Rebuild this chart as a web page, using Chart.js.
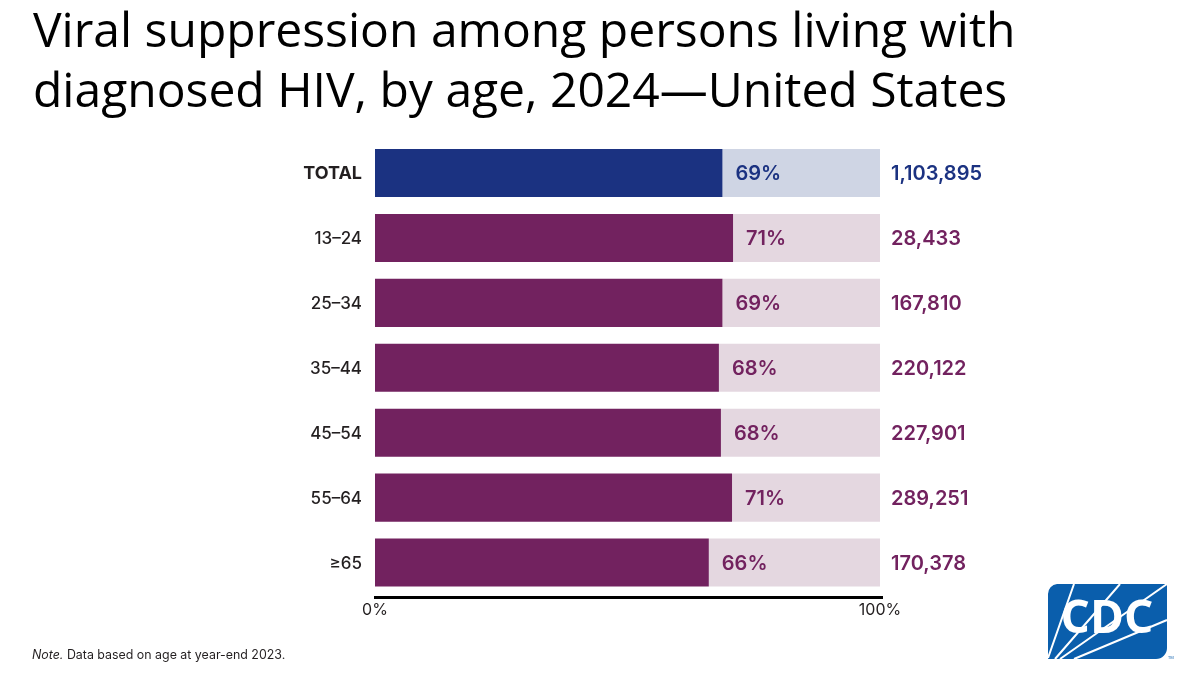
<!DOCTYPE html>
<html><head><meta charset="utf-8">
<script src="https://cdn.jsdelivr.net/npm/chart.js@4/dist/chart.umd.min.js"></script>
<style>
html,body{margin:0;padding:0;background:#fff;width:1200px;height:675px;overflow:hidden}
#wrap{position:relative;width:1200px;height:675px}
canvas{position:absolute;left:0;top:0}
#note{position:absolute;left:32px;top:647px;font:12.4px Inter,sans-serif;color:#231f20}
#logo{position:absolute;left:1047px;top:584px}
</style></head><body>
<div id="wrap">
<canvas id="c" width="1200" height="675"></canvas>
<div id="note"><i>Note.</i> Data based on age at year-end 2023.</div>
<svg id="logo" width="130" height="78" viewBox="0 0 130 78">
<path d="M10 0H120V64a11 11 0 0 1-11 11H1V10A10 10 0 0 1 10 0Z" fill="#0a5eac"/>
<g stroke="#fff" stroke-width="2" fill="none">
<path d="M1 74L27 0M8 75L73 0M13 75L120 0M27 75L120 36"/>
</g>
<text x="60" y="49" text-anchor="middle" font-family="Open Sans" font-weight="700" font-size="46" textLength="93" lengthAdjust="spacingAndGlyphs" fill="#fff">CDC</text>
<text x="121" y="75" font-family="Open Sans" font-size="4" fill="#0a5eac">TM</text>
</svg>
</div>
<script>
const titleLines = ["Viral suppression among persons living with","diagnosed HIV, by age, 2024—United States"];
const categories = ["TOTAL","13–24","25–34","35–44","45–54","55–64","≥65"];
const suppressed = [68.8,70.9,68.8,68.1,68.5,70.7,66.1];
const remainder = [31.2,29.1,31.2,31.9,31.5,29.3,33.9];
const percentLabels = ["69%","71%","69%","68%","68%","71%","66%"];
const counts = ["1,103,895","28,433","167,810","220,122","227,901","289,251","170,378"];
const darkColors = ["#1b3281","#72225f","#72225f","#72225f","#72225f","#72225f","#72225f"];
const lightColors = ["#cfd5e4","#e4d7e0","#e4d7e0","#e4d7e0","#e4d7e0","#e4d7e0","#e4d7e0"];

const labelFont = '600 20px Inter, sans-serif';
const barLabels = {
  id:'barLabels',
  afterDatasetsDraw(chart){
    const {ctx,scales:{x,y}} = chart;
    ctx.save();
    ctx.strokeStyle = '#000';
    ctx.lineWidth = 3;
    ctx.beginPath();
    ctx.moveTo(x.getPixelForValue(0)-1, y.bottom+2.5);
    ctx.lineTo(x.getPixelForValue(100)+3, y.bottom+2.5);
    ctx.stroke();
    ctx.font = labelFont;
    ctx.textBaseline = 'middle';
    categories.forEach((c,i)=>{
      const yp = y.getPixelForValue(i)+1;
      ctx.fillStyle = darkColors[i];
      ctx.textAlign = 'left';
      ctx.fillText(percentLabels[i], x.getPixelForValue(suppressed[i])+13, yp);
    });
    ctx.restore();
  }
};
new Chart(document.getElementById('c'),{
  type:'bar',
  plugins:[barLabels],
  data:{labels:categories,datasets:[
    {data:suppressed,backgroundColor:darkColors,stack:'a',barPercentage:1,categoryPercentage:0.74},
    {data:remainder,backgroundColor:lightColors,stack:'a',barPercentage:1,categoryPercentage:0.74}
  ]},
  options:{
    indexAxis:'y',responsive:false,animation:false,devicePixelRatio:1,
    layout:{padding:{left:33,right:0,top:0,bottom:0}},
    plugins:{
      legend:{display:false},tooltip:{enabled:false},
      title:{display:true,text:titleLines,align:'start',color:'#000',
        font:{family:'"Open Sans", sans-serif',size:48,weight:'400',lineHeight:1.25},
        padding:{top:3.6,bottom:17}}
    },
    scales:{
      x:{stacked:true,min:0,max:100,
        grid:{display:false,drawTicks:false},
        border:{display:false},
        ticks:{stepSize:100,padding:6,maxRotation:0,color:'#231f20',font:{family:'Inter, sans-serif',size:16},callback:v=>v+'%'},
        afterFit(s){s.height=80}
      },
      y:{stacked:true,
        grid:{display:false,drawTicks:false},border:{display:false},
        ticks:{padding:13,labelOffset:1,color:'#231f20',
          font:ctx=>({family:'Inter, sans-serif',size:ctx.index===0?18:17,weight:ctx.index===0?'700':'500'})},
        afterFit(s){s.width=342}
      },
      y2:{type:'category',position:'right',labels:counts,offset:true,
        grid:{display:false,drawTicks:false},border:{display:false},
        ticks:{padding:11,labelOffset:1,autoSkip:false,
          color:ctx=>darkColors[ctx.index],
          font:{family:'Inter, sans-serif',size:20,weight:'600'}},
        afterFit(s){s.width=320}
      }
    }
  }
});
</script>
</body></html>
